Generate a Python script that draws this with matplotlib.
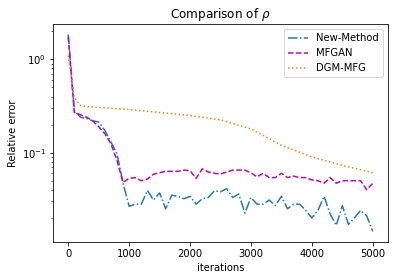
import matplotlib
matplotlib.use('Agg')
import matplotlib.pyplot as plt
import numpy as np

# iterations sampled every 100
iters = np.arange(0, 5001, 100)

new_method = [1.85, 0.284, 0.24, 0.233, 0.22, 0.213, 0.174, 0.13, 0.098, 0.047,
              0.0266, 0.028, 0.028, 0.0394, 0.031, 0.037, 0.025, 0.035, 0.034, 0.032,
              0.034, 0.028, 0.032, 0.033, 0.039, 0.038, 0.041, 0.033, 0.036, 0.0225,
              0.033, 0.028, 0.028, 0.031, 0.027, 0.034, 0.025, 0.028, 0.028, 0.024,
              0.020, 0.024, 0.034, 0.022, 0.0166, 0.027, 0.017, 0.020, 0.024, 0.021,
              0.0143]

mfgan = [1.75, 0.27, 0.255, 0.24, 0.22, 0.19, 0.16, 0.125, 0.083, 0.048,
         0.053, 0.054, 0.050, 0.052, 0.0586, 0.061, 0.063, 0.063, 0.063, 0.065,
         0.064, 0.053, 0.067, 0.062, 0.060, 0.059, 0.062, 0.065, 0.065, 0.065,
         0.0605, 0.055, 0.060, 0.054, 0.054, 0.060, 0.054, 0.056, 0.054, 0.054,
         0.051, 0.050, 0.047, 0.054, 0.047, 0.050, 0.050, 0.050, 0.050, 0.040,
         0.047]

dgm_iters = [0, 100, 200, 300, 500, 1000, 1500, 2000, 2500, 3000, 3500, 4000, 4500, 5000]
dgm = [1.1, 0.39, 0.32, 0.312, 0.305, 0.29, 0.27, 0.25, 0.225, 0.18, 0.12, 0.09, 0.073, 0.061]

fig = plt.figure(figsize=(394/72, 280/72), dpi=72)
ax = fig.add_subplot(111)
fig.subplots_adjust(left=53/394, right=388/394, top=1-24/280, bottom=1-242/280)

ax.plot(iters, new_method, '-.', color='C0', label='New-Method')
ax.plot(iters, mfgan, '--', color='m', label='MFGAN')
ax.plot(dgm_iters, dgm, ':', color='C1', label='DGM-MFG')
ax.set_yscale('log')
ax.set_ylim(0.011, 2.4)
ax.set_xlabel('iterations')
ax.set_ylabel('Relative error')
ax.set_title(r'Comparison of $\rho$')
ax.legend(loc='upper right')

fig.savefig('out.png', dpi=72)
